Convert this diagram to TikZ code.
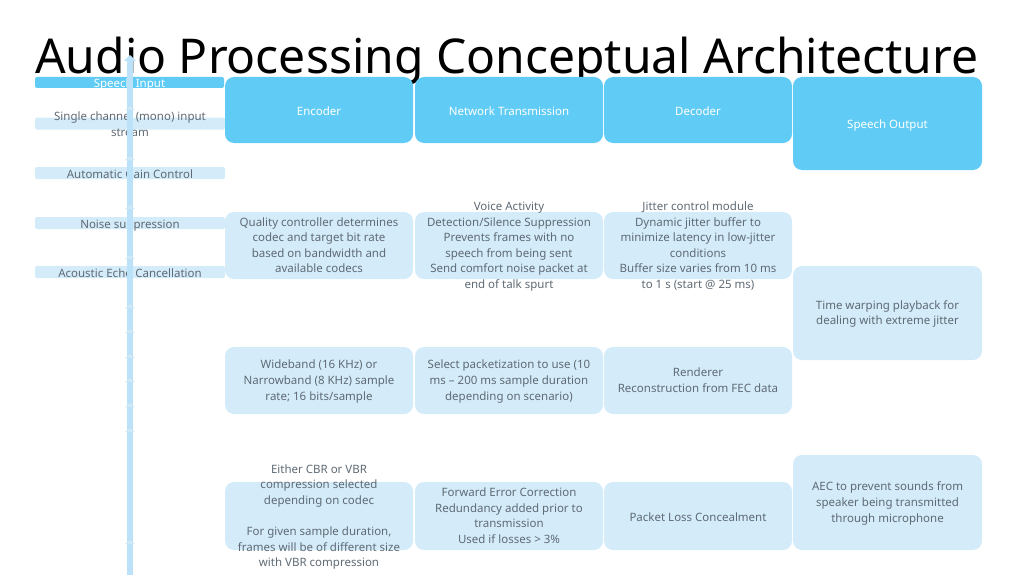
\documentclass[tikz,border=0pt]{standalone}
\usepackage{fontspec}
\setmainfont{Noto Sans}
\usetikzlibrary{arrows.meta}
\definecolor{hdrblue}{RGB}{96,204,245}
\definecolor{cellblue}{RGB}{212,236,250}
\definecolor{spineblue}{RGB}{187,226,248}
\definecolor{tickblue}{RGB}{205,232,246}
\definecolor{txtgrey}{RGB}{95,106,116}
\begin{document}
\begin{tikzpicture}[x=1pt,y=-1pt,
            every node/.style={inner sep=0pt},
            hdr/.style={fill=hdrblue,rounded corners=9pt,minimum width=188pt,minimum height=66pt},
            cell/.style={fill=cellblue,rounded corners=9pt,minimum width=188pt,minimum height=67pt},
            bar/.style={fill=cellblue,rounded corners=2pt,minimum width=190pt,minimum height=12pt},
            txt/.style={text=txtgrey,align=center,font=\fontsize{11.5}{15.6}\selectfont,yshift=-2pt,
              execute at begin node=\strut,execute at end node=\strut},
            htxt/.style={txt,text=white},
            spine/.style={draw=spineblue,line width=6pt,-{Triangle[width=12pt,length=6pt]}}
          ]
          \useasboundingbox (0,0) rectangle (1024,575);

          \node[anchor=base west,font=\fontsize{48}{58}\selectfont] (title) at (35,74) {Audio Processing Conceptual Architecture};

          % left column
          \node[bar,fill=hdrblue,minimum width=189pt,minimum height=11pt] (in) at (129.5,82.5) {};
          \node[htxt] (intxt) at (in) {Speech Input};
          \node[bar] (mono) at (130,123.5) {};
          \node[txt] (monotxt) at (130,124.5) {Single channel (mono) input\\stream};
          \node[bar] (agc) at (130,173) {};
          \node[txt] (agctxt) at (agc) {Automatic Gain Control};
          \node[bar] (ns) at (130,223) {};
          \node[txt] (nstxt) at (ns) {Noise suppression};
          \node[bar] (aec) at (130,272) {};
          \node[txt] (aectxt) at (aec) {Acoustic Echo Cancellation};

          % headers
          \node[hdr] (enc) at (319,110) {};
          \node[htxt] (enctxt) at (enc) {Encoder};
          \node[hdr] (net) at (509,110) {};
          \node[htxt] (nettxt) at (net) {Network Transmission};
          \node[hdr] (dec) at (698,110) {};
          \node[htxt] (dectxt) at (dec) {Decoder};
          \node[hdr,minimum width=189pt,minimum height=93pt] (out) at (887.5,123.5) {};
          \node[htxt] (outtxt) at (out) {Speech Output};

          % encoder column
          \node[cell] (encA) at (319,245.5) {};
          \node[txt] (encAtxt) at (encA) {Quality controller determines\\codec and target bit rate\\based on bandwidth and\\available codecs};
          \node[cell] (encB) at (319,380.5) {};
          \node[txt] (encBtxt) at (encB) {Wideband (16 KHz) or\\Narrowband (8 KHz) sample\\rate; 16 bits/sample};
          \node[cell,minimum height=68pt] (encC) at (319,516) {};
          \node[txt] (encCtxt) at (encC) {Either CBR or VBR\\compression selected\\depending on codec\\[15.6pt]For given sample duration,\\frames will be of different size\\with VBR compression};

          % network column
          \node[cell] (netA) at (509,245.5) {};
          \node[txt] (netAtxt) at (netA) {Voice Activity\\Detection/Silence Suppression\\Prevents frames with no\\speech from being sent\\Send comfort noise packet at\\end of talk spurt};
          \node[cell] (netB) at (509,380.5) {};
          \node[txt] (netBtxt) at (netB) {Select packetization to use (10\\ms -- 200 ms sample duration\\depending on scenario)};
          \node[cell,minimum height=68pt] (netC) at (509,516) {};
          \node[txt] (netCtxt) at (netC) {Forward Error Correction\\Redundancy added prior to\\transmission\\Used if losses > 3\%};

          % decoder column
          \node[cell] (decA) at (698,245.5) {};
          \node[txt] (decAtxt) at (decA) {Jitter control module\\Dynamic jitter buffer to\\minimize latency in low-jitter\\conditions\\Buffer size varies from 10 ms\\to 1 s (start @ 25 ms)};
          \node[cell] (decB) at (698,380.5) {};
          \node[txt] (decBtxt) at (decB) {Renderer\\Reconstruction from FEC data};
          \node[cell,minimum height=68pt] (decC) at (698,516) {};
          \node[txt] (decCtxt) at (decC) {Packet Loss Concealment};

          % output column
          \node[cell,minimum width=189pt,minimum height=94pt] (outA) at (887.5,313) {};
          \node[txt] (outAtxt) at (outA) {Time warping playback for\\dealing with extreme jitter};
          \node[cell,minimum width=189pt,minimum height=95pt] (outB) at (887.5,502.5) {};
          \node[txt] (outBtxt) at (outB) {AEC to prevent sounds from\\speaker being transmitted\\through microphone};

          % spine
          \coordinate (spinetop) at (130,55);
          \coordinate (spinebot) at (130,575);
          \draw[spine] (spinebot) -- (spinetop);
          \foreach \y in {108,158,207,257,306,331,356,380,405,430,542}
            \fill[tickblue] (125,\y+2) -- (130,\y-2) -- (135,\y+2) -- cycle;
          \end{tikzpicture}
\end{document}
